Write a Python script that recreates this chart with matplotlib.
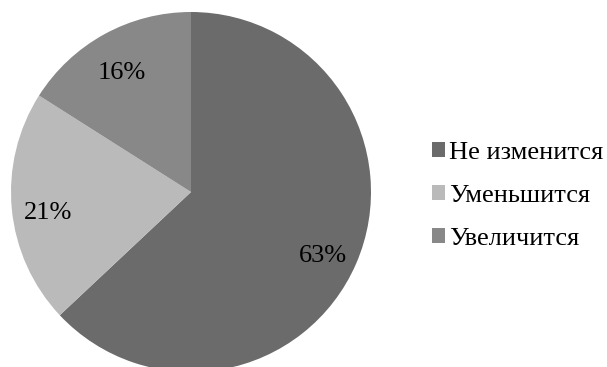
import matplotlib.pyplot as plt

labels = ["Не изменится", "Уменьшится", "Увеличится"]
values = [63, 21, 16]
colors = ["#6b6b6b", "#bababa", "#888888"]

plt.rcParams["font.family"] = ["Liberation Serif", "DejaVu Serif"]

W, H = 607, 367
fig = plt.figure(figsize=(W / 100, H / 100), dpi=100)
fig.patch.set_facecolor("white")

# pie centre and radius in pixels
cx, cy, r = 191, 192, 180
ax = fig.add_axes([(cx - r) / W, (H - cy - r) / H, 2 * r / W, 2 * r / H])
wedges, texts, autotexts = ax.pie(
    values,
    colors=colors,
    startangle=90,
    counterclock=False,
    autopct="%d%%",
    pctdistance=0.8,
    radius=1,
    textprops={"fontsize": 19, "color": "black"},
)
# labels sit a little lower than the default centring
for t in autotexts:
    x, y = t.get_position()
    t.set_position((x, y - 0.04))
ax.set_xlim(-1, 1)
ax.set_ylim(-1, 1)
ax.set_aspect("auto")
ax.axis("off")

leg = fig.legend(
    wedges,
    labels,
    loc="center left",
    bbox_to_anchor=(408 / W, 1 - 196 / H),
    frameon=False,
    fontsize=19,
    handlelength=0.5,
    handleheight=0.5,
    handletextpad=0.15,
    labelspacing=0.8,
)

fig.savefig("out.png", dpi=100)
